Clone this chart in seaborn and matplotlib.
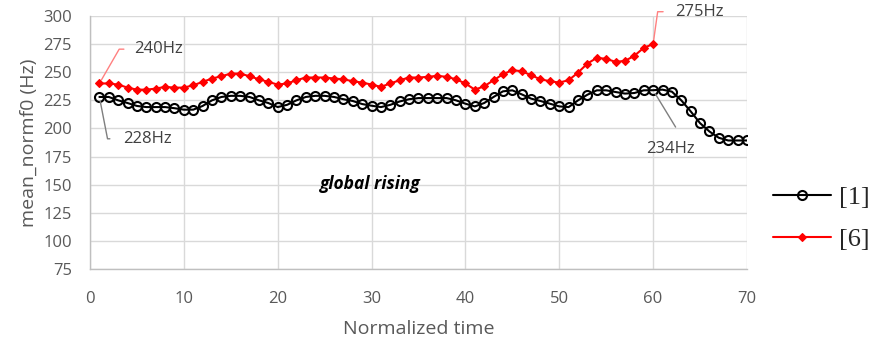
import matplotlib
matplotlib.use("Agg")
import matplotlib.pyplot as plt
import numpy as np
import pandas as pd
import seaborn as sns

# mean normalised f0 per time step
f0_s1 = [228, 228, 225, 222.6, 220, 219, 219, 219, 218, 216.7,
         216.7, 220, 225, 228, 229, 229, 228, 225, 222.6, 219,
         221, 225, 228, 229, 229, 228, 226, 224.4, 221.7, 220.2,
         219, 221, 224, 226, 227, 227, 227, 227, 225, 222,
         219.6, 222.6, 228, 233, 233.9, 230.3, 226.5, 224.4, 222, 219.6,
         219, 225, 230, 233.9, 233.9, 232.4, 231, 231.5, 233.9, 234,
         234.5, 232.7, 225, 215.2, 204.7, 197.3, 191.7, 189.3, 189.3, 189.3]
f0_s6 = [240, 240, 239, 236.3, 234.5, 234.5, 235.4, 237, 236.3, 236.3,
         238.4, 241.4, 244.4, 246.4, 248.8, 248.8, 246.4, 243.7, 241.4, 239,
         240, 242.9, 245.3, 245.3, 245.3, 244.4, 243.7, 242, 240.8, 239,
         237, 240, 242.9, 245.3, 245.3, 245.9, 246.8, 245.9, 243.7, 240,
         234.5, 237.5, 242.9, 248.2, 251.8, 250.9, 247.3, 243.7, 242, 240.8,
         242.9, 249.7, 257.7, 262.8, 261.9, 259.2, 260.1, 264.6, 271.7, 275]
time_s1 = list(range(1, len(f0_s1) + 1))
time_s6 = list(range(1, len(f0_s6) + 1))
series_names = ["[1]", "[6]"]

df1 = pd.DataFrame({"time": time_s1, "f0": f0_s1})
df6 = pd.DataFrame({"time": time_s6, "f0": f0_s6})

sns.set_style("white")
plt.rcParams["font.family"] = ["Open Sans", "DejaVu Sans"]

fig = plt.figure(figsize=(8.79, 3.38), dpi=100)
ax = fig.add_axes([0.1024, 0.2041, 0.7474, 0.7486])

grey_txt = "#595959"
grid_c = "#d9d9d9"

sns.lineplot(data=df1, x="time", y="f0", ax=ax, color="black", lw=1.5,
             marker="o", markersize=6.5, markerfacecolor="none",
             markeredgecolor="black", markeredgewidth=1.5,
             label=series_names[0], zorder=3)
sns.lineplot(data=df6, x="time", y="f0", ax=ax, color="#ff0000", lw=1.5,
             marker="D", markersize=4.5, markeredgecolor="#ff0000",
             markeredgewidth=0.8, label=series_names[1], zorder=4)

ax.set_xlim(0, 70)
ax.set_ylim(75, 300)
ax.set_xticks(np.arange(0, 71, 10))
ax.set_yticks(np.arange(75, 301, 25))
ax.grid(True, color=grid_c, lw=1.0)
ax.set_axisbelow(True)
for side in ["top", "right"]:
    ax.spines[side].set_visible(False)
for side in ["left", "bottom"]:
    ax.spines[side].set_color("#bfbfbf")
    ax.spines[side].set_linewidth(1.0)
ax.tick_params(axis="both", length=0, labelsize=12, labelcolor=grey_txt)
ax.tick_params(axis="x", pad=16)
ax.tick_params(axis="y", pad=13)
ax.set_xlabel("Normalized time", fontsize=14, color=grey_txt, labelpad=9)
ax.set_ylabel("mean_normf0 (Hz)", fontsize=14, color=grey_txt, labelpad=4)

ax.text(29.9, 150.6, "global rising", fontsize=12.5, fontweight="bold",
        fontstyle="italic", ha="center", va="center", color="black")

# data labels with leader lines
ax.annotate("240Hz", xy=(1, f0_s6[0]), xytext=(4.7, 270.5), fontsize=12,
            color="#404040", ha="left", va="center",
            arrowprops=dict(arrowstyle="-", color="#ff8080", lw=1,
                            connectionstyle="angle,angleA=0,angleB=60,rad=0",
                            relpos=(0, 0.5), shrinkA=5, shrinkB=3))
ax.annotate("228Hz", xy=(1, f0_s1[0]), xytext=(3.5, 190.8), fontsize=12,
            color="#404040", ha="left", va="center",
            arrowprops=dict(arrowstyle="-", color="#7f7f7f", lw=1,
                            connectionstyle="angle,angleA=0,angleB=-79,rad=0",
                            relpos=(0, 0.5), shrinkA=7, shrinkB=3))
ax.annotate("275Hz", xy=(60, f0_s6[59]), xytext=(62.3, 303.8), fontsize=12,
            color="#404040", ha="left", va="center", annotation_clip=False,
            arrowprops=dict(arrowstyle="-", color="#ff8080", lw=1,
                            connectionstyle="angle,angleA=0,angleB=82,rad=0",
                            relpos=(0, 0.5), shrinkA=6, shrinkB=3))
ax.annotate("234Hz", xy=(60, f0_s1[59]), xytext=(61.85, 181.7), fontsize=12,
            color="#404040", ha="center", va="center",
            arrowprops=dict(arrowstyle="-", color="#7f7f7f", lw=1,
                            relpos=(0.78, 1), shrinkA=9, shrinkB=3))

leg = ax.legend(loc="center left", bbox_to_anchor=(0.879, 0.3536),
                bbox_transform=fig.transFigure, frameon=False,
                prop={"family": "Liberation Serif", "size": 19},
                handlelength=2.2, handletextpad=0.3, labelspacing=0.7,
                borderpad=0, borderaxespad=0)

fig.savefig("out.png", dpi=100)
